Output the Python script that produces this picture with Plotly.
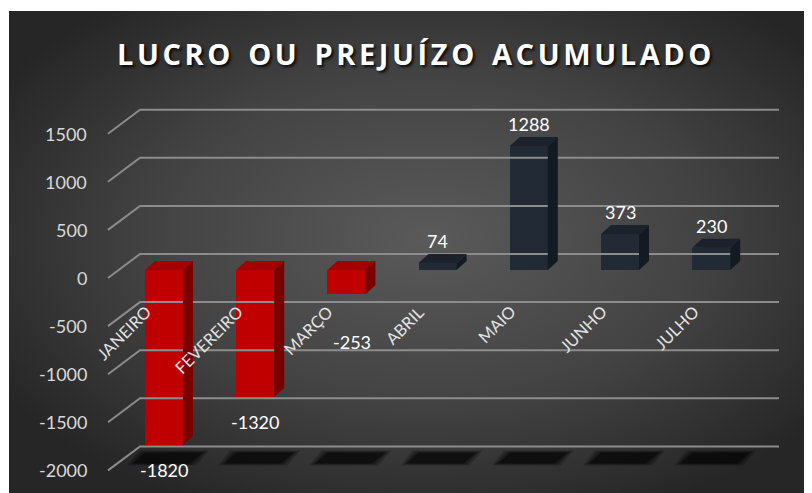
import base64
import plotly.graph_objects as go

# ---------------- data ----------------
months = ["JANEIRO", "FEVEREIRO", "MARÇO", "ABRIL", "MAIO", "JUNHO", "JULHO"]
values = [-1820, -1320, -253, 74, 1288, 373, 230]
tick_values = [-2000, -1500, -1000, -500, 0, 500, 1000, 1500]
title_text = "LUCRO OU PREJUÍZO ACUMULADO"

# ---------------- geometry ----------------
VW, VH = 812, 493          # browser window
OFF = 8                    # default page body margin
FW, FH = VW - OFF, VH - OFF
PX_PER_X = 91.2            # pixels per category step
PX_PER_V = 0.0962          # pixels per value unit
CX0, CY0 = 164, 270        # window pixel of category 0 / value 0 (bar front plane)
X0 = (OFF - CX0) / PX_PER_X
X1 = X0 + FW / PX_PER_X
Y1 = (CY0 - OFF) / PX_PER_V
Y0 = -(VH - CY0) / PX_PER_V


def dx(px):
    return px / PX_PER_X


def dv(py):
    # screen dy (down positive) -> value delta
    return -py / PX_PER_V


BAR_W = dx(38)
DEPTH_X, DEPTH_V = dx(10), dv(-9)
FRONT_X, FRONT_V = dx(-10.7), dv(8)      # front (label) plane relative to bar plane
WALL_X, WALL_V = dx(21.3), dv(-16)       # back wall relative to bar plane
GRID_LEFT = dx(108 - CX0)
GRID_RIGHT = dx(779 - CX0)
FLOOR = min(tick_values)

RED, RED_SIDE, RED_TOP = "#c00000", "#7a0000", "#a30000"
DARK, DARK_SIDE, DARK_TOP = "#222a35", "#141a21", "#1b222b"

fig = go.Figure()

# background gradient (with thin white frame at top/left)
svg = f'''<svg xmlns="http://www.w3.org/2000/svg" width="{FW}" height="{FH}" viewBox="0 0 {FW} {FH}" preserveAspectRatio="none">
<defs><radialGradient id="g" cx="0.52" cy="0.47" r="0.62">
<stop offset="0" stop-color="#5a5a5a"/><stop offset="0.55" stop-color="#434343"/><stop offset="1" stop-color="#262626"/>
</radialGradient></defs>
<rect x="0" y="0" width="{FW}" height="{FH}" fill="#ffffff"/>
<rect x="1" y="3" width="{FW-1}" height="{FH-3}" fill="url(#g)"/>
</svg>'''
src = "data:image/svg+xml;base64," + base64.b64encode(svg.encode()).decode()
fig.add_layout_image(source=src, xref="paper", yref="paper", x=0, y=1, sizex=1, sizey=1,
                     sizing="stretch", layer="below", xanchor="left", yanchor="top")

# gridlines: front diagonal then along the back wall
gx, gy = [], []
for t in tick_values:
    gx += [GRID_LEFT, GRID_LEFT + (WALL_X - FRONT_X), GRID_RIGHT, None]
    gy += [t + FRONT_V, t + WALL_V, t + WALL_V, None]
fig.add_trace(go.Scatter(x=gx, y=gy, mode="lines", line=dict(color="#8c8c8c", width=2),
                         hoverinfo="skip", showlegend=False))

# floor shadows under each bar
for i, v in enumerate(values):
    for grow, alpha in [(6, 0.22), (3, 0.3), (0, 0.45)]:
        xs = [i + dx(-31 - grow), i + dx(26 + grow), i + dx(39 + grow), i + dx(-19 - grow), i + dx(-31 - grow)]
        yb, yt = FLOOR + dv(1 + grow / 3), FLOOR + dv(-10 - grow / 3)
        fig.add_trace(go.Scatter(x=xs, y=[yb, yb, yt, yt, yb], fill="toself", mode="none",
                                 fillcolor=f"rgba(0,0,0,{alpha})", hoverinfo="skip", showlegend=False))

# front faces
fig.add_trace(go.Bar(x=list(range(len(months))), y=values, width=BAR_W,
                     marker=dict(color=[RED if v < 0 else DARK for v in values], line=dict(width=0)),
                     hoverinfo="skip", showlegend=False))

# side and top faces
for i, v in enumerate(values):
    side_c = RED_SIDE if v < 0 else DARK_SIDE
    top_c = RED_TOP if v < 0 else DARK_TOP
    xl, xr = i - BAR_W / 2, i + BAR_W / 2
    fig.add_trace(go.Scatter(x=[xr, xr + DEPTH_X, xr + DEPTH_X, xr, xr],
                             y=[0, DEPTH_V, v + DEPTH_V, v, 0],
                             fill="toself", mode="none", fillcolor=side_c,
                             hoverinfo="skip", showlegend=False))
    top = max(v, 0)
    fig.add_trace(go.Scatter(x=[xl, xl + DEPTH_X, xr + DEPTH_X, xr, xl],
                             y=[top, top + DEPTH_V, top + DEPTH_V, top, top],
                             fill="toself", mode="none", fillcolor=top_c,
                             hoverinfo="skip", showlegend=False))

ann = []
# value-axis tick labels (front plane)
for t in tick_values:
    ann.append(dict(x=dx(89 - CX0), y=t + FRONT_V, text=str(t), showarrow=False,
                    xanchor="right", yanchor="middle",
                    font=dict(family="Lato", size=18, color="#d9d9d9")))
# category labels
for i, m in enumerate(months):
    ann.append(dict(x=i + dx(-6), y=0, text=m, showarrow=False, textangle=-45,
                    xanchor="right", yanchor="top", yshift=-29,
                    font=dict(family="Lato", size=16.5, color="#e3e3e3")))
# data labels
label_shift = {2: (6, -48)}
for i, v in enumerate(values):
    xs_, ys_ = label_shift.get(i, (0, 22 if v > 0 else -25))
    ann.append(dict(x=i, y=v, text=str(v), showarrow=False, xanchor="center", yanchor="middle",
                    xshift=xs_, yshift=ys_,
                    font=dict(family="Lato", size=18, color="#ffffff")))
# title
ann.append(dict(x=(416 - OFF) / FW, y=1 - (53 - OFF) / FH, xref="paper", yref="paper",
                text=f'<span style="letter-spacing:3.6px;word-spacing:3px">{title_text}</span>',
                showarrow=False, xanchor="center", yanchor="middle",
                font=dict(family="Open Sans", size=29, color="#ffffff", weight="bold",
                          shadow="2px 2px 3px rgba(0,0,0,0.85)")))

fig.update_layout(
    width=FW, height=FH, margin=dict(l=0, r=0, t=0, b=0),
    paper_bgcolor="#ffffff", plot_bgcolor="rgba(0,0,0,0)",
    xaxis=dict(range=[X0, X1], visible=False, fixedrange=True),
    yaxis=dict(range=[Y0, Y1], visible=False, fixedrange=True),
    annotations=ann, bargap=0,
)

fig.write_html("out.html")
